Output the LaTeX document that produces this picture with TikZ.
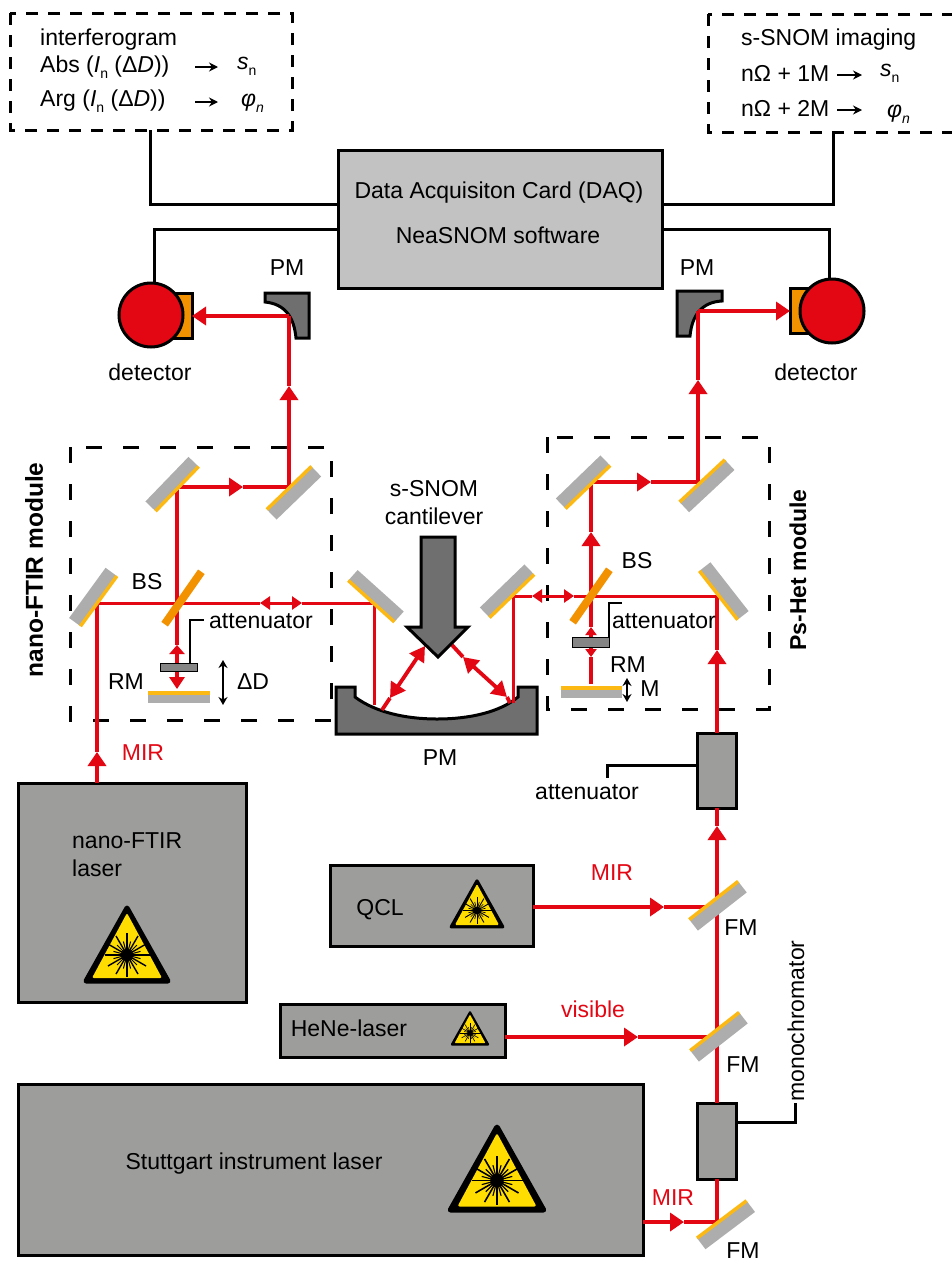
\documentclass[tikz,border=0pt]{standalone}
\usepackage{fontspec}
\setmainfont{Liberation Sans}
\usetikzlibrary{arrows.meta}
\definecolor{beamred}{HTML}{E30613}
\definecolor{boxgray}{HTML}{9D9D9C}
\definecolor{daqgray}{HTML}{C2C2C2}
\definecolor{pmgray}{HTML}{6F6F6F}
\definecolor{mirrorgray}{HTML}{ADADAD}
\definecolor{coatgold}{HTML}{FDB913}
\definecolor{bsorange}{HTML}{F39200}
\definecolor{signyellow}{HTML}{FFDD00}
\newcommand{\subn}[1]{\raisebox{-6pt}{\fontsize{14}{14}\selectfont #1}}
\tikzstyle{beam} = [line width=3.8pt, draw=beamred]
\tikzstyle{thinbeam} = [line width=3pt, draw=beamred]
\tikzstyle{bigtip} = [-{Triangle[length=14pt,width=18pt]}]
\tikzstyle{doubletip} = [{Triangle[length=10pt,width=13pt]}-{Triangle[length=10pt,width=13pt]}]
\tikzstyle{bigdouble} = [{Triangle[length=15pt,width=17pt]}-{Triangle[length=15pt,width=17pt]}]
\tikzstyle{smalldouble} = [{Triangle[length=8pt,width=11pt]}-{Triangle[length=8pt,width=11pt]}]
\tikzstyle{wire} = [line width=3pt, draw=black]
\tikzstyle{infotip} = [line width=1.6pt, -{Stealth[length=9pt,width=9pt]}]
\tikzstyle{travel} = [line width=2pt, {Stealth[length=8pt,width=9pt]}-{Stealth[length=8pt,width=9pt]}]
\tikzstyle{module} = [line width=3pt, dash pattern=on 16pt off 21pt]
\tikzstyle{infobox} = [line width=3pt, dash pattern=on 12pt off 10pt]
\tikzstyle{labbox} = [draw=black, line width=3pt, fill=boxgray, inner sep=0pt, outer sep=0pt]
\tikzstyle{mirror} = [fill=mirrorgray, minimum width=62pt, minimum height=14pt, inner sep=0pt, outer sep=0pt]
\tikzstyle{coat} = [line width=3.5pt, draw=coatgold]
\tikzstyle{splitter} = [fill=bsorange, minimum width=64pt, minimum height=8pt, inner sep=0pt, outer sep=0pt]
\tikzstyle{pmshape} = [draw=black, line width=3pt, fill=pmgray, line join=miter]
\tikzstyle{label} = [inner sep=0pt]
\tikzstyle{redlabel} = [inner sep=0pt, text=beamred]
\tikzstyle{leftlabel} = [inner sep=0pt, anchor=west]
\tikzstyle{baselabel} = [inner sep=0pt, anchor=base west]
\tikzset{lasersign/.pic={
    \begin{scope}[scale=#1]
    \fill[black, draw=black, line width=#1*5pt, line join=round] (0,3) -- (41,76) -- (-41,76) -- cycle;
    \fill[signyellow, rounded corners=#1*2pt] (0,8) -- (35,73) -- (-35,73) -- cycle;
    \fill[black] (0,50) circle (6);
    \foreach \a in {0,30,...,330} {
        \draw[line width=#1*1.4pt] (0,50) -- ++(\a:22);
        \draw[line width=#1*1pt] (0,50) -- ++(\a+15:14);
    }
    \draw[line width=#1*1.4pt] (0,50) -- (25,50);
    \end{scope}
}}

\begin{document}
\begin{tikzpicture}[x=1pt, y=-1pt, font=\fontsize{23}{28}\selectfont]
    \useasboundingbox (0,0) rectangle (952,1266);

    % Dashed boxes
    \draw[infobox] (10,13) rectangle (292,130);
    \draw[infobox] (708,14) rectangle (955,132);
    \draw[module] (70,447) rectangle (331,720);
    \draw[module] (547,437) rectangle (769,709);

    % Upper boxes
    \node (info1) [baselabel] at (40,45) {interferogram};
    \node (info2) [baselabel] at (40,72) {Abs (\textit{I}\subn{n} (Δ\textit{D}))};
    \node (info3) [baselabel] at (40,106) {Arg (\textit{I}\subn{n} (Δ\textit{D}))};
    \node (sn1) [baselabel] at (237,69) {\textit{s}\subn{n}};
    \node (phi1) [baselabel] at (241,106) {\textit{φ}\subn{\textit{n}}};
    \coordinate (arrA) at (195,67);
    \coordinate (arrB) at (218,67);
    \coordinate (arrC) at (195,102);
    \coordinate (arrD) at (218,102);
    \draw[infotip] (arrA) -- (arrB);
    \draw[infotip] (arrC) -- (arrD);
    \node (snom1) [baselabel] at (741,45) {s-SNOM imaging};
    \node (snom2) [baselabel] at (741,81) {nΩ + 1M};
    \node (snom3) [baselabel] at (741,116) {nΩ + 2M};
    \node (sn2) [baselabel] at (880,76) {\textit{s}\subn{n}};
    \node (phi2) [baselabel] at (887,117) {\textit{φ}\subn{\textit{n}}};
    \coordinate (arrE) at (837,75);
    \coordinate (arrF) at (862,75);
    \coordinate (arrG) at (837,110);
    \coordinate (arrH) at (862,110);
    \draw[infotip] (arrE) -- (arrF);
    \draw[infotip] (arrG) -- (arrH);

    \node (daq) [labbox, fill=daqgray, minimum width=324pt, minimum height=138pt] at (500,219) {};
    \node (daq1) [label] at (499,193) {Data Acquisiton Card (DAQ)};
    \node (daq2) [label] at (498,235) {NeaSNOM software};

    % Detectors
    \node (detbackL) [labbox, fill=bsorange, minimum width=24pt, minimum height=45pt] at (180,316) {};
    \node (detL) [draw=black, line width=3pt, fill=beamred, circle, minimum size=64pt, inner sep=0pt, outer sep=0pt] at (151,315) {};
    \node (detbackR) [labbox, fill=bsorange, minimum width=24pt, minimum height=45pt] at (802,311) {};
    \node (detR) [draw=black, line width=3pt, fill=beamred, circle, minimum size=64pt, inner sep=0pt, outer sep=0pt] at (832,311) {};
    \node (detlabelL) [label] at (150,372) {detector};
    \node (detlabelR) [label] at (816,372) {detector};

    % Wires
    \coordinate (infoL) at (150,130);
    \coordinate (infoR) at (833,132);
    \draw[wire] (infoL) |- (daq.west |- 0,204);
    \draw[wire] (detL.83) |- (daq.west |- 0,229);
    \draw[wire] (infoR) |- (daq.east |- 0,204);
    \draw[wire] (detR.94) |- (daq.east |- 0,229);

    % Parabolic mirrors
    \draw[pmshape] (265,293) -- (309,293) -- (309,338) -- (296,338) .. controls (294,317) and (285,304) .. (265,302) -- cycle;
    \draw[pmshape] (722,291) -- (677,291) -- (677,336) -- (690,336) .. controls (692,315) and (702,302) .. (722,301) -- cycle;
    \draw[pmshape] (336,687) -- (355,687) -- (355,697) .. controls (375,712) and (405,719) .. (437,719) .. controls (470,719) and (500,712) .. (518,697) -- (518,687) -- (537,687) -- (537,734) -- (336,734) -- cycle;
    \node (pmlabelL) [label] at (287,268) {PM};
    \node (pmlabelR) [label] at (697,268) {PM};
    \node (pmlabel) [label] at (440,758) {PM};

    % Junctions on the beams
    \coordinate (pmL) at (289,316);
    \coordinate (pmR) at (698,311);
    \coordinate (m1) at (177,487);
    \coordinate (m2) at (289,487);
    \coordinate (m3) at (97,603);
    \coordinate (m4) at (374,603);
    \coordinate (bsL) at (177,603);
    \coordinate (r1) at (591,482);
    \coordinate (r2) at (698,482);
    \coordinate (r3) at (513,596);
    \coordinate (r4) at (717,596);
    \coordinate (bsR) at (591,596);
    \coordinate (hitL) at (382,710);
    \coordinate (hitR) at (510,703);
    \coordinate (surfL) at (374,705);
    \coordinate (surfR) at (513,703);
    \coordinate (fm1) at (717,907);
    \coordinate (fm2) at (717,1037);
    \coordinate (fm3) at (717,1222);
    \coordinate (rmL) at (177,689);
    \coordinate (rmR) at (591,684);

    % Lasers
    \node (nano) [labbox, minimum width=228pt, minimum height=219pt] at (132,892.5) {};
    \node (qcl) [labbox, minimum width=203pt, minimum height=81pt] at (431.5,905.5) {};
    \node (hene) [labbox, minimum width=225pt, minimum height=53pt] at (392.5,1030.5) {};
    \node (stutt) [labbox, minimum width=625pt, minimum height=171pt] at (330.5,1169.5) {};
    \node (atten) [labbox, minimum width=39pt, minimum height=75pt] at (716.5,770.5) {};
    \node (mono) [labbox, minimum width=39pt, minimum height=76pt] at (716.5,1141) {};
    \node (nanolabel) [leftlabel, align=left] at (72,855) {nano-FTIR\\laser};
    \node (qcllabel) [label] at (380,910) {QCL};
    \node (henelabel) [label] at (349,1028) {HeNe-laser};
    \node (stuttlabel) [label] at (254,1164) {Stuttgart instrument laser};
    \pic at (127,905) {lasersign=1};
    \pic at (477,879) {lasersign=0.63};
    \pic at (470,1011) {lasersign=0.44};
    \pic at (497,1124) {lasersign=1.13};

    % Beams
    \coordinate (tipMIR) at (97,752);
    \draw[beam, bigtip] (nano.north -| m3) -- (tipMIR);
    \draw[beam] (tipMIR) -- (m3);
    \draw[thinbeam] (m3) -- (bsL);
    \coordinate (dblA) at (260,603);
    \coordinate (dblB) at (302,603);
    \draw[thinbeam] (bsL) -- (dblA);
    \draw[thinbeam, doubletip] (dblA) -- (dblB);
    \draw[thinbeam] (dblB) -- (m4);
    \draw[thinbeam] (m4) -- (surfL);
    \draw[beam] (m1) -- (bsL);
    \coordinate (rmA) at (177,645);
    \draw[beam] (bsL) -- (rmA);
    \draw[beam, {Triangle[length=9pt,width=15pt]}-{Triangle[length=12pt,width=15pt]}] (rmA) -- (rmL);
    \coordinate (tipA) at (243,487);
    \draw[beam, bigtip] (m1) -- (tipA);
    \draw[beam] (tipA) -- (m2);
    \coordinate (tipB) at (289,386);
    \draw[beam, bigtip] (m2) -- (tipB);
    \draw[beam] (tipB) -- (pmL);
    \draw[beam, bigtip] (pmL) -- (detbackL.east |- pmL);

    \coordinate (canL) at (425,646);
    \coordinate (canLb) at (390,698);
    \coordinate (canR) at (463,657);
    \coordinate (canRb) at (507,697);
    \coordinate (canEnd) at (452,645);
    \draw[beam] (hitL) -- (canLb);
    \draw[beam, bigdouble] (canLb) -- (canL);
    \draw[beam] (hitR) -- (canRb);
    \draw[beam, bigdouble] (canRb) -- (canR);
    \draw[beam] (canR) -- (canEnd);

    \draw[thinbeam] (surfR) -- (r3);
    \coordinate (dblC) at (532,596);
    \coordinate (dblD) at (574,596);
    \draw[thinbeam] (r3) -- (dblC);
    \draw[thinbeam, doubletip] (dblC) -- (dblD);
    \draw[thinbeam] (dblD) -- (r4);
    \coordinate (tipC) at (591,532);
    \draw[beam, bigtip] (bsR) -- (tipC);
    \draw[beam] (tipC) -- (r1);
    \coordinate (rmB) at (591,627);
    \coordinate (rmC) at (591,657);
    \draw[beam] (bsR) -- (rmB);
    \draw[beam, smalldouble] (rmB) -- (rmC);
    \draw[beam] (rmC) -- (rmR);
    \coordinate (tipD) at (651,482);
    \draw[beam, bigtip] (r1) -- (tipD);
    \draw[beam] (tipD) -- (r2);
    \coordinate (tipE) at (698,380);
    \draw[beam, bigtip] (r2) -- (tipE);
    \draw[beam] (tipE) -- (pmR);
    \draw[beam, bigtip] (pmR) -- (detbackR.west |- pmR);
    \coordinate (tipF) at (717,650);
    \draw[beam, bigtip] (atten.north -| r4) -- (tipF);
    \draw[beam] (tipF) -- (r4);

    \coordinate (tipG) at (717,826);
    \draw[beam, bigtip] (fm1) -- (tipG);
    \draw[beam] (tipG) -- (atten.south -| fm1);
    \draw[beam] (fm2) -- (fm1);
    \draw[beam] (mono.north -| fm2) -- (fm2);
    \draw[beam] (fm3) -- (mono.south -| fm3);
    \coordinate (tipH) at (664,907);
    \draw[beam, bigtip] (qcl.east |- fm1) -- (tipH);
    \draw[beam] (tipH) -- (fm1);
    \coordinate (tipI) at (638,1037);
    \draw[beam, bigtip] (hene.east |- fm2) -- (tipI);
    \draw[beam] (tipI) -- (fm2);
    \coordinate (tipJ) at (684,1222);
    \draw[beam, bigtip] (stutt.east |- fm3) -- (tipJ);
    \draw[beam] (tipJ) -- (fm3);

    % Mirrors
    \node (mir1) [mirror, rotate=46] at (172,484) {};
    \draw[coat] (mir1.south west) -- (mir1.south east);
    \node (mir2) [mirror, rotate=44] at (294,493) {};
    \draw[coat] (mir2.north west) -- (mir2.north east);
    \node (mir3) [mirror, rotate=54] at (93,597) {};
    \draw[coat] (mir3.south west) -- (mir3.south east);
    \node (mir4) [mirror, rotate=-42] at (376,596) {};
    \draw[coat] (mir4.south west) -- (mir4.south east);
    \node (mir5) [mirror, rotate=44] at (583,482) {};
    \draw[coat] (mir5.south west) -- (mir5.south east);
    \node (mir6) [mirror, rotate=43] at (707,486) {};
    \draw[coat] (mir6.north west) -- (mir6.north east);
    \node (mir7) [mirror, rotate=44] at (507,591) {};
    \draw[coat] (mir7.south west) -- (mir7.south east);
    \node (mir8) [mirror, rotate=-52] at (724,591) {};
    \draw[coat] (mir8.south west) -- (mir8.south east);
    \node (fold1) [mirror, rotate=38] at (718,906) {};
    \draw[coat] (fold1.north west) -- (fold1.north east);
    \node (fold2) [mirror, rotate=38] at (719,1037) {};
    \draw[coat] (fold2.north west) -- (fold2.north east);
    \node (fold3) [mirror, rotate=37] at (726,1225) {};
    \draw[coat] (fold3.north west) -- (fold3.north east);
    \node (bs1) [splitter, rotate=55] at (183,598) {};
    \node (bs2) [splitter, rotate=55] at (591,596) {};

    % Reference mirrors and attenuators
    \node (rm1) [fill=mirrorgray, minimum width=62pt, minimum height=10pt, inner sep=0pt] at (179,698) {};
    \draw[coat, line width=4pt] (rm1.north west) -- (rm1.north east);
    \node (rm2) [fill=mirrorgray, minimum width=61pt, minimum height=10pt, inner sep=0pt] at (591.5,693) {};
    \draw[coat, line width=4pt] (rm2.north west) -- (rm2.north east);
    \node (att1) [labbox, line width=1pt, fill=boxgray!85!black, minimum width=37pt, minimum height=8pt] at (178.5,667) {};
    \node (att2) [labbox, line width=1pt, fill=boxgray!85!black, minimum width=37pt, minimum height=10pt] at (590.5,642) {};
    \coordinate (attw1) at (204,620);
    \coordinate (attw2) at (622,603);
    \draw[line width=2pt] (att1.north -| 190,0) |- (attw1);
    \draw[line width=2pt] (att2.north east) |- (attw2);
    \coordinate (attw3) at (607,778);
    \draw[wire] (atten.west |- 0,765) -| (attw3);
    \coordinate (monow) at (795,1103);
    \draw[wire] (mono.east |- 0,1122) -| (monow);

    % Cantilever
    \draw[pmshape] (421,537) -- (455,537) -- (455,627) -- (468,627) -- (438,657) -- (407,627) -- (421,627) -- cycle;

    % Travel arrows
    \coordinate (travelA) at (223,660);
    \coordinate (travelB) at (223,705);
    \coordinate (travelC) at (627,678);
    \coordinate (travelD) at (627,702);
    \draw[travel] (travelA) -- (travelB);
    \draw[travel] (travelC) -- (travelD);

    % Labels
    \node (cant) [label, align=center] at (434,503) {s-SNOM\\cantilever};
    \node (bslabel1) [label] at (147,582) {BS};
    \node (bslabel2) [label] at (637,561) {BS};
    \node (rmlabel1) [label] at (126,682) {RM};
    \node (rmlabel2) [label] at (628,665) {RM};
    \node (dlabel) [label] at (253,682) {ΔD};
    \node (mlabel) [label] at (650,689) {M};
    \node (attlabel1) [leftlabel] at (209,621) {attenuator};
    \node (attlabel2) [leftlabel] at (612,621) {attenuator};
    \node (attlabel3) [label] at (587,792) {attenuator};
    \node (mirlabel1) [redlabel] at (143,753) {MIR};
    \node (mirlabel2) [redlabel] at (612,873) {MIR};
    \node (mirlabel3) [redlabel] at (673,1198) {MIR};
    \node (vislabel) [redlabel] at (593,1009) {visible};
    \node (fmlabel1) [label] at (741,928) {FM};
    \node (fmlabel2) [label] at (743,1065) {FM};
    \node (fmlabel3) [label] at (743,1251) {FM};
    \node (monolabel) [label, rotate=90] at (796,1021) {monochromator};
    \node (ftirlabel) [label, rotate=90, font=\fontsize{24.5}{28}\selectfont\bfseries] at (34,570) {nano-FTIR module};
    \node (hetlabel) [label, rotate=90, font=\fontsize{23}{28}\selectfont\bfseries] at (798,570) {Ps-Het module};
   \end{tikzpicture}
\end{document}
